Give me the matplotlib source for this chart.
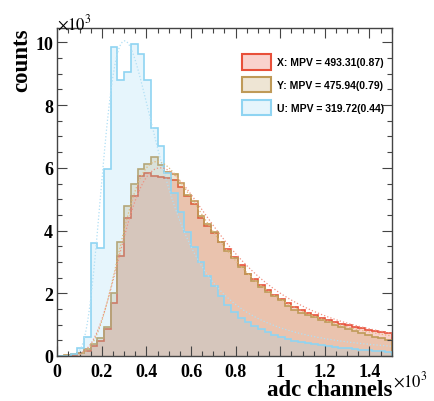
import numpy as np
import matplotlib
matplotlib.use("Agg")
import matplotlib.pyplot as plt
from matplotlib.patches import Patch
from matplotlib.ticker import MultipleLocator

# 50 bins of 30 adc channels, x axis in units of 10^3
edges = np.linspace(0, 1.5, 51)

# counts per bin (x10^3)
counts_x = [0.0, 0.01, 0.03, 0.08, 0.17, 0.33, 0.49, 0.86, 1.68, 3.19,
            4.40, 5.10, 5.74, 5.85, 5.74, 5.72, 5.69, 5.60, 5.40, 5.10,
            4.85, 4.40, 4.15, 3.92, 3.62, 3.40, 3.15, 2.90, 2.63, 2.45,
            2.25, 2.10, 1.95, 1.83, 1.68, 1.57, 1.47, 1.38, 1.31, 1.22,
            1.14, 1.07, 1.02, 0.98, 0.93, 0.88, 0.82, 0.80, 0.78, 0.72]
counts_y = [0.0, 0.02, 0.05, 0.10, 0.22, 0.38, 0.56, 0.93, 2.00, 3.62,
            4.79, 5.50, 5.95, 6.12, 6.34, 6.10, 5.88, 5.80, 5.53, 5.15,
            4.95, 4.45, 4.20, 3.95, 3.65, 3.35, 3.12, 2.85, 2.60, 2.40,
            2.20, 2.05, 1.90, 1.78, 1.60, 1.48, 1.38, 1.30, 1.24, 1.16,
            1.08, 1.00, 0.92, 0.86, 0.80, 0.74, 0.68, 0.62, 0.57, 0.51]
counts_u = [0.0, 0.0, 0.05, 0.27, 0.62, 3.59, 3.45, 5.96, 9.86, 8.80,
            9.05, 9.96, 9.64, 8.80, 7.28, 6.70, 5.83, 5.21, 4.60, 3.95,
            3.47, 3.00, 2.56, 2.22, 1.92, 1.62, 1.40, 1.22, 1.07, 0.95,
            0.85, 0.75, 0.66, 0.59, 0.53, 0.48, 0.44, 0.40, 0.37, 0.34,
            0.31, 0.28, 0.26, 0.24, 0.22, 0.20, 0.18, 0.16, 0.15, 0.13]

labels = ["X: MPV = 493.31(0.87)", "Y: MPV = 475.94(0.79)", "U: MPV = 319.72(0.44)"]
# landau fit parameters (x10^3 adc)
fit_mpv = [0.49331, 0.47594, 0.31972]
fit_sigma = [0.14, 0.13, 0.08]
fit_peak = [6.0, 6.2, 10.05]

line_colors = ["#e8503a", "#bf9a58", "#8fd4f2"]
fill_colors = [(0.91, 0.31, 0.23, 0.25), (0.75, 0.60, 0.33, 0.25), (0.56, 0.83, 0.95, 0.22)]
fit_colors = ["#f09080", "#e0b878", "#b0dff5"]


def landau(lam):
    # landau density, integral form
    t = np.linspace(1e-6, 60, 20000)
    lam = np.clip(np.atleast_1d(lam), -3.0, None)
    f = np.exp(-t * np.log(t) - np.outer(lam, t)) * np.sin(np.pi * t)
    return np.trapezoid(f, t, axis=1) / np.pi


fig = plt.figure(figsize=(4.34, 4.02), dpi=100)
ax = fig.add_axes([57.3 / 434, 45 / 402, (391.7 - 57.3) / 434, (357 - 29.3) / 402])

hists = [counts_x, counts_y, counts_u]
for i in range(3):
    ax.stairs(hists[i], edges, fill=True, color=fill_colors[i], lw=0)
    ax.stairs(hists[i], edges, color=line_colors[i], lw=1.2)

xf = np.linspace(0.1, 1.5, 300)
for i in range(3):
    lam = (xf - fit_mpv[i]) / fit_sigma[i]
    yf = landau(lam)
    yf = fit_peak[i] * yf / yf.max()
    m = yf > 0.03
    ax.plot(xf[m], yf[m], ls=":", lw=0.9, color=fit_colors[i])

ax.set_xlim(0, 1.5)
ax.set_ylim(0, 10.45)
ax.xaxis.set_major_locator(MultipleLocator(0.2))
ax.xaxis.set_minor_locator(MultipleLocator(0.05))
ax.yaxis.set_major_locator(MultipleLocator(2))
ax.yaxis.set_minor_locator(MultipleLocator(0.5))
ax.xaxis.set_major_formatter(plt.FuncFormatter(lambda v, p: "%g" % round(v, 1)))
ax.yaxis.set_major_formatter(plt.FuncFormatter(lambda v, p: "%g" % v))
ax.tick_params(which="both", direction="in", top=True, right=True, color="#444444", width=0.8)
ax.tick_params(which="major", length=7)
ax.tick_params(which="minor", length=3.6)
ax.tick_params(axis="x", pad=5)
ax.tick_params(axis="y", pad=3)
for lab in ax.get_xticklabels() + ax.get_yticklabels():
    lab.set_fontfamily("Liberation Serif")
    lab.set_fontweight("bold")
    lab.set_fontsize(13)
for s in ax.spines.values():
    s.set_color("#444444")
    s.set_linewidth(1.0)

plt.rcParams["mathtext.fontset"] = "stix"
fig.text(22 / 434, 1 - 28 / 402, "counts", rotation=90, ha="center", va="top",
         family="Liberation Serif", weight="bold", fontsize=16.5)
fig.text(392 / 434, 1 - 396 / 402, "adc channels", ha="right", va="baseline",
         family="Liberation Serif", weight="bold", fontsize=16.5)
fig.text(57 / 434, 1 - 30 / 402, r"$\times10^{3}$", ha="left", va="baseline", fontsize=12)
fig.text(393 / 434, 1 - 387 / 402, r"$\times10^{3}$", ha="left", va="baseline", fontsize=12)

handles = [Patch(facecolor=fill_colors[i], edgecolor=line_colors[i], lw=1.5) for i in range(3)]
leg = ax.legend(handles, labels, loc="upper left", bbox_to_anchor=(236.7 / 434, 1 - 50 / 402),
                bbox_transform=fig.transFigure, frameon=False, borderpad=0,
                handlelength=2.8, handleheight=1.9, labelspacing=0.7, handletextpad=0.6,
                prop={"family": "Liberation Sans", "weight": "bold", "size": 7.5})

fig.savefig("out.png", dpi=100)
